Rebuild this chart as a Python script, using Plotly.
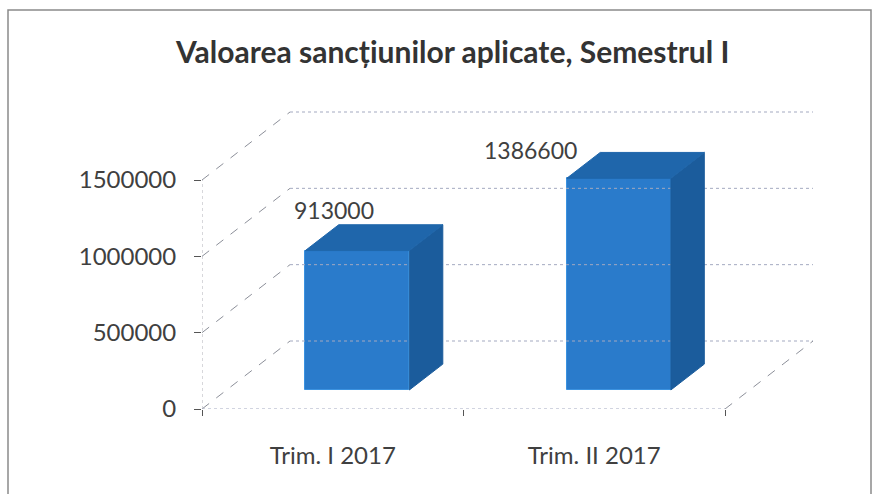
import plotly.graph_objects as go

# ---------------- data ----------------
categories = ["Trim. I 2017", "Trim. II 2017"]
values = [913000, 1386600]
y_ticks = [0, 500000, 1000000, 1500000]
title_text = "Valoarea sancțiunilor aplicate, Semestrul I"

# ---------------- style / geometry ----------------
W, H = 879, 494
ML, MR, MT, MB = 202, 64, 110, 85
PX_PER_CAT = 261.5
VAL_PER_PX = 1500000 / 229.0
plot_w = W - ML - MR
plot_h = H - MT - MB
x_range = [-0.5, -0.5 + plot_w / PX_PER_CAT]
y_range = [0, plot_h * VAL_PER_PX]

# oblique depth of the 3D box (in pixels -> data units)
DX = 88 / PX_PER_CAT
DY = 68 * VAL_PER_PX
BAR_F0 = 0.28      # depth fraction where bar starts
BAR_DEPTH = 0.38   # depth fraction of bar
BAR_OFF = 0.094    # x shift of bar front from category centre
BAR_W = 0.398
label_shift_px = [(-23, 41), (-88, 28)]

FRONT = "#2a7bcb"
TOP = "#1f66ab"
SIDE = "#1b5c9c"
GRID = "#a3a9c0"
DIAG = "#8c8f99"
TXT = "#404040"
FONT = "Lato"

fig = go.Figure()

def seg(x0, y0, x1, y1, dash="dot", color=GRID):
    fig.add_trace(go.Scatter(x=[x0, x1], y=[y0, y1], mode="lines",
                             line=dict(color=color, width=1, dash=dash),
                             hoverinfo="skip", showlegend=False, cliponaxis=False))

xl = x_range[0]
xr = -0.5 + len(categories)
# back wall gridlines and left-wall diagonals
for v in y_ticks:
    seg(xl + DX, v + DY, xr + DX, v + DY)
    seg(xl, v, xl + DX, v + DY, dash="dash", color=DIAG)
# floor edges
seg(xl, 0, xr, 0)
seg(xr, 0, xr + DX, DY, dash="dash", color=DIAG)
# front vertical axis line
seg(xl, 0, xl, y_ticks[-1], color="#b0b0b8")

# bars
ddx = BAR_DEPTH * DX
ddy = BAR_DEPTH * DY
base = BAR_F0 * DY
for i, v in enumerate(values):
    x0 = i + BAR_OFF - BAR_W / 2
    x1 = i + BAR_OFF + BAR_W / 2
    top = base + v
    # side face
    fig.add_trace(go.Scatter(
        x=[x1, x1 + ddx, x1 + ddx, x1, x1],
        y=[base, base + ddy, top + ddy, top, base],
        fill="toself", fillcolor=SIDE, mode="lines",
        line=dict(color=SIDE, width=1), hoverinfo="skip", showlegend=False))
    # top face
    fig.add_trace(go.Scatter(
        x=[x0, x1, x1 + ddx, x0 + ddx, x0],
        y=[top, top, top + ddy, top + ddy, top],
        fill="toself", fillcolor=TOP, mode="lines",
        line=dict(color=TOP, width=1), hoverinfo="skip", showlegend=False))

# front faces as real bars
fig.add_trace(go.Bar(
    x=[i + BAR_OFF for i in range(len(values))], y=values,
    base=[base] * len(values), width=BAR_W,
    marker=dict(color=FRONT, line=dict(color="#3b92e0", width=1)),
    showlegend=False, hoverinfo="skip"))

# data labels
for i, v in enumerate(values):
    sx, sy = label_shift_px[i]
    fig.add_annotation(x=i + BAR_OFF, y=base + v, text=str(v), showarrow=False,
                       xanchor="center", yanchor="middle",
                       xshift=sx, yshift=sy, font=dict(family=FONT, size=23, color=TXT))

# title
fig.add_annotation(xref="paper", yref="paper",
                   x=(452 - ML) / plot_w, y=(H - MB - 51) / plot_h,
                   xanchor="center", yanchor="middle",
                   text="<b>" + title_text + "</b>", showarrow=False,
                   font=dict(family=FONT, size=30, color="#333333"))

# outer border of the chart area
fig.add_shape(type="rect", xref="paper", yref="paper",
              x0=(8 - ML) / plot_w, x1=(871 - ML) / plot_w,
              y0=(H - MB - 520) / plot_h, y1=(H - MB - 10) / plot_h,
              line=dict(color="#8a8a8a", width=1.5))

fig.update_layout(
    width=W, height=H,
    margin=dict(l=ML, r=MR, t=MT, b=MB, autoexpand=False),
    paper_bgcolor="white", plot_bgcolor="white",
    bargap=0,
    xaxis=dict(range=x_range, tickvals=list(range(len(categories))), ticktext=categories,
               ticks="", showgrid=False, zeroline=False, showline=False, automargin=False,
               tickfont=dict(family=FONT, size=24, color=TXT),
               ticklabelstandoff=30,
               minor=dict(tickvals=[-0.5 + k for k in range(len(categories) + 1)],
                          ticks="outside", ticklen=6, tickcolor="#555555", showgrid=False)),
    yaxis=dict(range=y_range, tickvals=y_ticks, ticktext=[str(t) for t in y_ticks],
               ticks="outside", ticklen=7, tickcolor="#555555", automargin=False,
               showgrid=False, zeroline=False, showline=False,
               ticklabelstandoff=13,
               tickfont=dict(family=FONT, size=24, color=TXT)),
)

fig.write_html("out.html", config={"displayModeBar": False},
               post_script="document.body.style.margin='0';document.body.style.overflow='hidden';")
